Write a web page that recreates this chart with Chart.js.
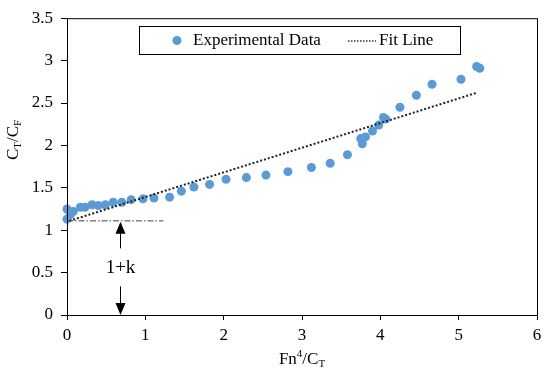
<!DOCTYPE html>
<html>
<head>
<meta charset="utf-8">
<script src="https://cdn.jsdelivr.net/npm/chart.js@4/dist/chart.umd.min.js"></script>
<style>
  html, body { margin: 0; padding: 0; background: #fff; }
  #wrap { width: 550px; height: 379px; }
</style>
</head>
<body>
<div id="wrap"><canvas id="c"></canvas></div>
<script>
// Experimental points (Fn^4/CT, CT/CF)
const EXP_X = [0.00, 0.00, 0.04, 0.08, 0.17, 0.23, 0.32, 0.40, 0.49, 0.59, 0.70, 0.82, 0.97, 1.11,
               1.31, 1.46, 1.62, 1.82, 2.03, 2.29, 2.54, 2.82, 3.12, 3.36, 3.58, 3.75, 3.77, 3.81,
               3.90, 3.98, 4.04, 4.07, 4.25, 4.46, 4.66, 5.03, 5.23, 5.27];
const EXP_Y = [1.25, 1.13, 1.18, 1.22, 1.27, 1.27, 1.30, 1.29, 1.30, 1.33, 1.33, 1.36, 1.37, 1.38,
               1.39, 1.46, 1.51, 1.54, 1.60, 1.62, 1.65, 1.69, 1.74, 1.79, 1.89, 2.08, 2.02, 2.10,
               2.17, 2.24, 2.33, 2.31, 2.45, 2.59, 2.72, 2.78, 2.93, 2.91];

// linear fit end points
const FIT_X = [0.03, 5.23];
const FIT_Y = [1.11, 2.62];

// 1+k marker
const K_LEVEL = 1.11;
const K_LINE_X = [0, 1.23];
const ARROW_X = 0.68;
const LABEL_Y = 0.55;

const X_TICKS = [0, 1, 2, 3, 4, 5, 6];
const Y_MAX = 3.5;

const BLUE = '#5b9bd5';
const SERIF = '"Liberation Serif", "Times New Roman", serif';

const toPts = (xs, ys) => xs.map((x, i) => ({ x, y: ys[i] }));

// text with sub/superscript parts: [[text, 'n'|'sub'|'sup'], ...]
function richText(ctx, parts, size) {
  let w = 0;
  parts.forEach(([t, k]) => {
    ctx.font = `${k === 'n' ? size : Math.round(size * 0.65)}px ${SERIF}`;
    w += ctx.measureText(t).width;
  });
  let x = -w / 2;
  parts.forEach(([t, k]) => {
    const s = k === 'n' ? size : Math.round(size * 0.65);
    ctx.font = `${s}px ${SERIF}`;
    const dy = k === 'sub' ? size * 0.22 : k === 'sup' ? -size * 0.35 : 0;
    ctx.fillText(t, x, dy);
    x += ctx.measureText(t).width;
  });
}

function arrowHead(ctx, x, y, dir) {
  ctx.beginPath();
  ctx.moveTo(x, y);
  ctx.lineTo(x - 5, y - dir * 12);
  ctx.lineTo(x + 5, y - dir * 12);
  ctx.closePath();
  ctx.fill();
}

const decor = {
  id: 'decor',
  afterDraw(chart) {
    const { ctx, chartArea: a, scales: { x, y } } = chart;
    ctx.save();

    // frame
    ctx.strokeStyle = '#000';
    ctx.lineWidth = 1;
    ctx.strokeRect(a.left + 0.5, a.top + 0.5, a.right - a.left, a.bottom - a.top);

    // 1+k arrows
    const ax = Math.round(x.getPixelForValue(ARROW_X)) + 0.5;
    const yk = y.getPixelForValue(K_LEVEL);
    const y0 = y.getPixelForValue(0);
    const yl = y.getPixelForValue(LABEL_Y);
    ctx.fillStyle = '#000';
    ctx.beginPath();
    ctx.moveTo(ax, yk + 10); ctx.lineTo(ax, yl - 20);
    ctx.moveTo(ax, yl + 18); ctx.lineTo(ax, y0 - 10);
    ctx.stroke();
    arrowHead(ctx, ax, yk + 1, -1);
    arrowHead(ctx, ax, y0, 1);
    ctx.font = `19px ${SERIF}`;
    ctx.textAlign = 'center';
    ctx.textBaseline = 'middle';
    ctx.fillText('1+k', ax, yl);

    // legend box
    ctx.lineWidth = 1;
    ctx.strokeRect(139.5, 26.5, 321, 28);
    ctx.fillStyle = BLUE;
    ctx.beginPath(); ctx.arc(177, 40.5, 4.5, 0, Math.PI * 2); ctx.fill();
    ctx.fillStyle = '#000';
    ctx.textAlign = 'left';
    ctx.font = `17px ${SERIF}`;
    ctx.fillText('Experimental Data', 193, 41);
    ctx.fillText('Fit Line', 379, 41);
    ctx.strokeStyle = '#333';
    ctx.lineWidth = 1.5;
    ctx.setLineDash([1.5, 1.5]);
    ctx.beginPath(); ctx.moveTo(348, 41); ctx.lineTo(376, 41); ctx.stroke();
    ctx.setLineDash([]);

    // axis titles
    ctx.fillStyle = '#000';
    ctx.textBaseline = 'middle';
    ctx.textAlign = 'left';
    ctx.save();
    ctx.translate((a.left + a.right) / 2, 360);
    richText(ctx, [['Fn', 'n'], ['4', 'sup'], ['/C', 'n'], ['T', 'sub']], 17);
    ctx.restore();
    ctx.save();
    ctx.translate(14, 140);
    ctx.rotate(-Math.PI / 2);
    richText(ctx, [['C', 'n'], ['T', 'sub'], ['/C', 'n'], ['F', 'sub']], 17);
    ctx.restore();

    ctx.restore();
  }
};

new Chart(document.getElementById('c'), {
  type: 'scatter',
  data: {
    datasets: [
      {
        label: 'Experimental Data',
        data: toPts(EXP_X, EXP_Y),
        backgroundColor: BLUE,
        borderColor: BLUE,
        pointRadius: 4.5,
        pointBorderWidth: 0,
        clip: false,
        order: 2
      },
      {
        label: 'Fit Line',
        type: 'line',
        data: toPts(FIT_X, FIT_Y),
        borderColor: '#222',
        borderWidth: 2,
        borderDash: [2, 2],
        pointRadius: 0,
        fill: false,
        order: 1
      },
      {
        label: 'k',
        type: 'line',
        data: toPts(K_LINE_X, [K_LEVEL, K_LEVEL]),
        borderColor: '#444',
        borderWidth: 1,
        borderDash: [6, 2, 1.5, 2],
        pointRadius: 0,
        fill: false,
        order: 3
      }
    ]
  },
  options: {
    responsive: true,
    maintainAspectRatio: false,
    animation: false,
    layout: { padding: { left: 0, right: 13, top: 17, bottom: 0 } },
    plugins: {
      legend: { display: false },
      tooltip: { enabled: false }
    },
    scales: {
      x: {
        type: 'linear',
        min: X_TICKS[0],
        max: X_TICKS[X_TICKS.length - 1],
        afterBuildTicks: s => { s.ticks = X_TICKS.map(v => ({ value: v })); },
        afterFit: s => { s.height = 64; },
        grid: { drawOnChartArea: false, tickLength: 5, color: '#000' },
        border: { color: '#000' },
        ticks: { color: '#000', padding: 5, font: { family: SERIF, size: 17 } }
      },
      y: {
        min: 0,
        max: Y_MAX,
        afterFit: s => { s.width = 67; },
        grid: { drawOnChartArea: false, tickLength: 6, color: '#000' },
        border: { color: '#000' },
        ticks: {
          stepSize: 0.5,
          color: '#000',
          padding: 8,
          font: { family: SERIF, size: 17 },
          callback: v => String(v)
        }
      }
    }
  },
  plugins: [decor]
});
</script>
</body>
</html>
